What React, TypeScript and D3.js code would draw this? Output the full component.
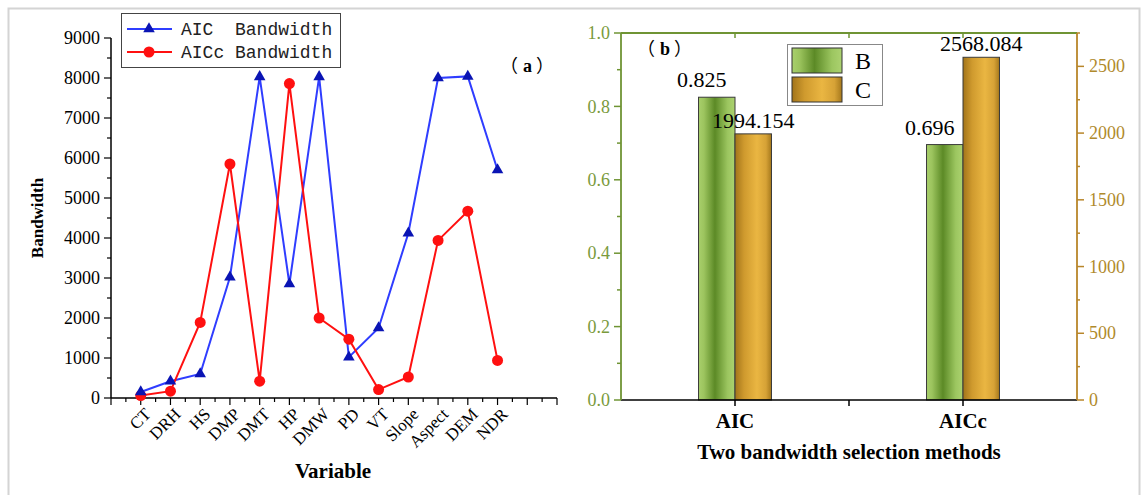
import React from "react";
import * as d3 from "d3";

// panel (a) data
const variables = ["CT", "DRH", "HS", "DMP", "DMT", "HP", "DMW", "PD", "VT", "Slope", "Aspect", "DEM", "NDR"];
const aicBandwidth = [150, 420, 600, 3020, 8030, 2850, 8030, 1020, 1750, 4120, 8000, 8040, 5700];
const aiccBandwidth = [60, 170, 1890, 5850, 420, 7860, 2000, 1470, 210, 525, 3940, 4670, 940];
const bandwidthTicks = [0, 1000, 2000, 3000, 4000, 5000, 6000, 7000, 8000, 9000];

// panel (b) data
const methods = ["AIC", "AICc"];
const bValues = [0.825, 0.696];
const cValues = [1994.154, 2568.084];
const bTicks = [0, 0.2, 0.4, 0.6, 0.8, 1.0];
const cTicks = [0, 500, 1000, 1500, 2000, 2500];

const SERIF = "'Liberation Serif', 'Times New Roman', serif";
const CJK = "'Noto Sans CJK SC', sans-serif";
const GREEN_AX = "#6f9434";
const GOLD_AX = "#b8862a";

// panel tag like （a） with full-width brackets
function Tag({ x, y, letter }: { x: number; y: number; letter: string }) {
  return (
    <text x={x} y={y} fontSize={18} fontWeight="bold">
      <tspan fontFamily={CJK} fontWeight="normal">（</tspan>
      <tspan fontFamily={SERIF} dx={5}>{letter}</tspan>
      <tspan fontFamily={CJK} fontWeight="normal" dx={4}>）</tspan>
    </text>
  );
}

export default function App() {
  // ---- panel (a) scales
  const xA = d3.scaleLinear().domain([0, 15]).range([111, 557]);
  const yA = d3.scaleLinear().domain([0, 9000]).range([398, 38]);
  const line = d3.line<number>().x((d, i) => xA(i + 1)).y(d => yA(d));
  const tri = d3.symbol().type(d3.symbolTriangle).size(58)();
  const xMinor = d3.range(0, 15.01, 0.5);
  const yMinor = d3.range(0, 9001, 500);

  // ---- panel (b) scales
  const xB = d3.scaleLinear().domain([0.5, 2.5]).range([621, 1077]);
  const yL = d3.scaleLinear().domain([0, 1]).range([400, 33]);
  const yR = d3.scaleLinear().domain([0, 2750]).range([400, 33]);
  const barW = xB(0.66) - xB(0.5);
  const lMinor = d3.range(0, 1.001, 0.1);
  const rMinor = d3.range(0, 2751, 250);

  return (
    <svg width={1143} height={495} style={{ position: "absolute", left: 0, top: 0, display: "block" }}>
      <defs>
        <linearGradient id="gB" x1="0" x2="1" y1="0" y2="0">
          <stop offset="0" stopColor="#a9d06c" />
          <stop offset="0.15" stopColor="#9cc45e" />
          <stop offset="0.45" stopColor="#5c8a26" />
          <stop offset="0.8" stopColor="#9cc660" />
          <stop offset="1" stopColor="#acd270" />
        </linearGradient>
        <linearGradient id="gC" x1="0" x2="1" y1="0" y2="0">
          <stop offset="0" stopColor="#a2741a" />
          <stop offset="0.25" stopColor="#cf9a2e" />
          <stop offset="0.6" stopColor="#eab642" />
          <stop offset="0.85" stopColor="#d6a236" />
          <stop offset="1" stopColor="#a5781c" />
        </linearGradient>
      </defs>

      {/* outer frame */}
      <rect x={8.5} y={8.5} width={1131} height={500} fill="none" stroke="#d4d4d4" strokeWidth={2} />

      {/* ================= panel (a) ================= */}
      <g>
        {/* y axis */}
        <line x1={111} x2={111} y1={yA(0)} y2={yA(9000)} stroke="#000" strokeWidth={1.5} />
        {yMinor.map(v => (
          <line key={"ym" + v} x1={111} x2={v % 1000 === 0 ? 104 : 107} y1={yA(v)} y2={yA(v)} stroke="#000" strokeWidth={1.2} />
        ))}
        {bandwidthTicks.map(v => (
          <text key={"yt" + v} x={100} y={yA(v)} dy="0.34em" textAnchor="end" fontFamily={SERIF} fontSize={18} fill="#000">{v}</text>
        ))}
        <text transform={`translate(43,${(yA(0) + yA(9000)) / 2}) rotate(-90)`} textAnchor="middle" fontFamily={SERIF} fontSize={17} fontWeight="bold">Bandwidth</text>

        {/* x axis */}
        <line x1={111} x2={xA(15)} y1={398} y2={398} stroke="#000" strokeWidth={1.5} />
        {xMinor.map(v => (
          <line key={"xm" + v} x1={xA(v)} x2={xA(v)} y1={398} y2={Number.isInteger(v) ? 405 : 402} stroke="#000" strokeWidth={1.2} />
        ))}
        {variables.map((v, i) => (
          <text key={"xl" + v} transform={`translate(${xA(i + 1) + 7},${411}) rotate(-45)`} textAnchor="end" dy="0.35em" fontFamily={SERIF} fontSize={17}>{v}</text>
        ))}
        <text x={333} y={478} textAnchor="middle" fontFamily={SERIF} fontSize={21} fontWeight="bold">Variable</text>

        {/* series */}
        <path d={line(aicBandwidth) || ""} fill="none" stroke="#2f3dff" strokeWidth={2} />
        <path d={line(aiccBandwidth) || ""} fill="none" stroke="#ff1010" strokeWidth={2} />
        {aiccBandwidth.map((v, i) => (
          <circle key={"c" + i} cx={xA(i + 1)} cy={yA(v)} r={5.5} fill="#ff1010" />
        ))}
        {aicBandwidth.map((v, i) => (
          <path key={"t" + i} d={tri || ""} transform={`translate(${xA(i + 1)},${yA(v)})`} fill="#0a14b4" />
        ))}

        <Tag x={500} y={72} letter="a" />

        {/* legend */}
        <rect x={121.5} y={13.5} width={219} height={54} fill="#fff" stroke="#444" strokeWidth={1} />
        <line x1={127} x2={172} y1={29} y2={29} stroke="#2f3dff" strokeWidth={2} />
        <path d={tri || ""} transform="translate(149,29)" fill="#0a14b4" />
        <line x1={127} x2={172} y1={52} y2={52} stroke="#ff1010" strokeWidth={2} />
        <circle cx={149} cy={52} r={5.5} fill="#ff1010" />
        <text x={181} y={29} dy="0.35em" fontFamily="'Liberation Mono', monospace" fontSize={18} fill="#222" xmlSpace="preserve">{"AIC  Bandwidth"}</text>
        <text x={181} y={52} dy="0.35em" fontFamily="'Liberation Mono', monospace" fontSize={18} fill="#222">AICc Bandwidth</text>
      </g>

      {/* ================= panel (b) ================= */}
      <g>
        {/* bars */}
        {methods.map((m, i) => (
          <g key={"bar" + m}>
            <rect x={xB(i + 1) - barW} y={yL(bValues[i])} width={barW} height={yL(0) - yL(bValues[i])} fill="url(#gB)" stroke="#3a3a3a" strokeWidth={1} />
            <rect x={xB(i + 1)} y={yR(cValues[i])} width={barW} height={yR(0) - yR(cValues[i])} fill="url(#gC)" stroke="#3a3a3a" strokeWidth={1} />
            <text x={xB(i + 1) - barW / 2 - 15} y={yL(bValues[i]) - 10} textAnchor="middle" fontFamily={SERIF} fontSize={22}>{bValues[i].toFixed(3)}</text>
            <text x={xB(i + 1) + barW / 2} y={yR(cValues[i]) - 6} textAnchor="middle" fontFamily={SERIF} fontSize={22}>{cValues[i].toFixed(3)}</text>
          </g>
        ))}

        {/* top axis */}
        <line x1={xB(0.5)} x2={xB(2.5)} y1={33} y2={33} stroke={GREEN_AX} strokeWidth={1.8} />
        {[1, 1.5, 2].map(v => (
          <line key={"tt" + v} x1={xB(v)} x2={xB(v)} y1={33} y2={38} stroke={GREEN_AX} strokeWidth={1.5} />
        ))}

        {/* bottom axis */}
        <line x1={xB(0.5)} x2={xB(2.5)} y1={400} y2={400} stroke="#000" strokeWidth={1.5} />
        {[1, 1.5, 2].map(v => (
          <line key={"bt" + v} x1={xB(v)} x2={xB(v)} y1={400} y2={406} stroke="#000" strokeWidth={1.5} />
        ))}
        {methods.map((m, i) => (
          <text key={"ml" + m} x={xB(i + 1)} y={428} textAnchor="middle" fontFamily={SERIF} fontSize={21} fontWeight="bold">{m}</text>
        ))}
        <text x={xB(1.5)} y={459} textAnchor="middle" fontFamily={SERIF} fontSize={21} fontWeight="bold">Two bandwidth selection methods</text>

        {/* left axis */}
        <line x1={621} x2={621} y1={33} y2={400} stroke={GREEN_AX} strokeWidth={1.8} />
        {lMinor.map(v => {
          const major = Math.round(v * 10) % 2 === 0;
          return <line key={"lm" + v} x1={621} x2={major ? 614 : 617} y1={yL(v)} y2={yL(v)} stroke={GREEN_AX} strokeWidth={1.5} />;
        })}
        {bTicks.map(v => (
          <text key={"lt" + v} x={610} y={yL(v)} dy="0.34em" textAnchor="end" fontFamily={SERIF} fontSize={18} fill="#7a9a3c">{v.toFixed(1)}</text>
        ))}

        {/* right axis */}
        <line x1={1077} x2={1077} y1={33} y2={400} stroke={GOLD_AX} strokeWidth={1.8} />
        {rMinor.map(v => (
          <line key={"rm" + v} x1={1077} x2={v % 500 === 0 ? 1084 : 1080} y1={yR(v)} y2={yR(v)} stroke={GOLD_AX} strokeWidth={1.5} />
        ))}
        {cTicks.map(v => (
          <text key={"rt" + v} x={1089} y={yR(v)} dy="0.34em" textAnchor="start" fontFamily={SERIF} fontSize={18} fill="#b08a2c">{v}</text>
        ))}

        <Tag x={637} y={55} letter="b" />

        {/* legend */}
        <rect x={787.5} y={44.5} width={95} height={61} fill="#fff" stroke="#888" strokeWidth={1} />
        <rect x={792} y={48} width={50} height={25} fill="url(#gB)" stroke="#333" strokeWidth={1} />
        <rect x={792} y={77} width={50} height={25} fill="url(#gC)" stroke="#333" strokeWidth={1} />
        <text x={855} y={69} fontFamily={SERIF} fontSize={24}>B</text>
        <text x={855} y={98} fontFamily={SERIF} fontSize={24}>C</text>
      </g>
    </svg>
  );
}
